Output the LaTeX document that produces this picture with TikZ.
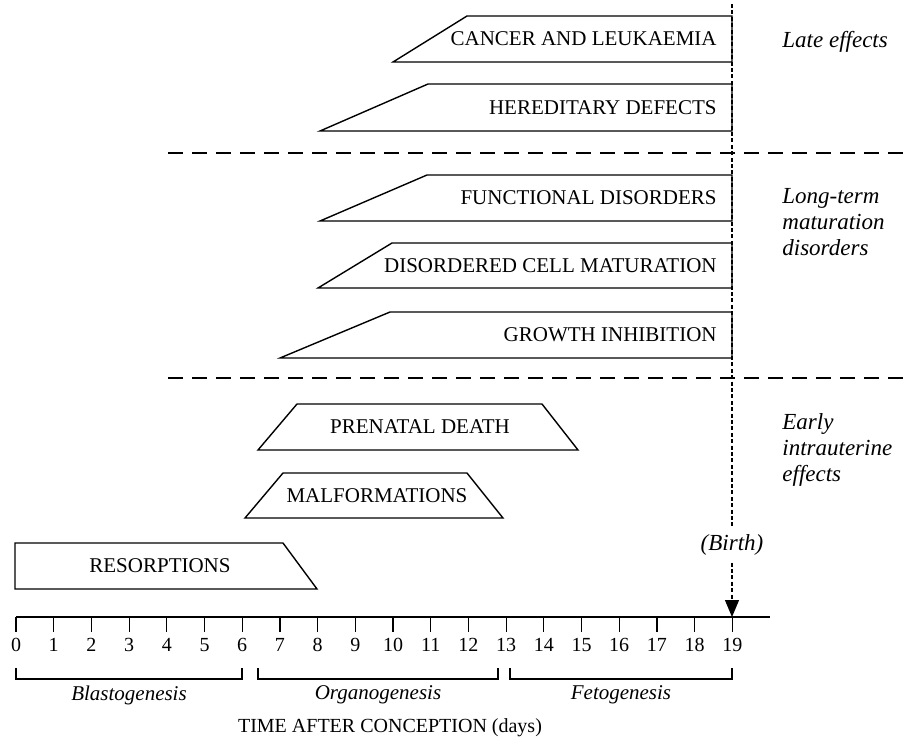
\documentclass[tikz,border=0pt]{standalone}
\usepackage{fontspec}
\setmainfont{Liberation Serif}
\usepackage{tikz}
\usetikzlibrary{arrows.meta, positioning, calc}
\tikzset{effect/.style={draw,line width=0.7pt,fill=white},
         efftext/.style={font=\fontsize{10.5}{12}\selectfont,inner sep=0pt},
         grouplabel/.style={font=\fontsize{11.5}{13}\selectfont\itshape,align=left,anchor=west,inner sep=0pt},
         separator/.style={line width=1pt,dash pattern=on 7.5pt off 4.5pt},
         birthline/.style={line width=0.6pt,dash pattern=on 2pt off 1.2pt},
         timeaxis/.style={line width=1.2pt},
         tick/.style={line width=0.6pt},
         daynum/.style={font=\fontsize{10}{12}\selectfont,below,inner sep=3pt},
         phase/.style={line width=0.6pt},
         phaselabel/.style={font=\fontsize{10.5}{12}\selectfont\itshape,below,inner sep=3pt}}
\begin{document}
\begin{tikzpicture}[x=0.5pt,y=-0.5pt]
    \useasboundingbox (0,0) rectangle (922,751);
    % effects that last until birth
    \foreach \n/\tl/\bl/\yt/\yb/\t in {cancer/467/393/16/62/CANCER AND LEUKAEMIA,
        hered/428/320/84/131/HEREDITARY DEFECTS, funct/427/320/175/221/FUNCTIONAL DISORDERS,
        disord/392/318/243/288/DISORDERED CELL MATURATION, growth/390/280/312/358/GROWTH INHIBITION} {
      \draw[effect] (\tl,\yt) -- (732,\yt) -- (732,\yb) -- (\bl,\yb) -- cycle;
      \node[efftext, anchor=east] (\n) at (717,{(\yt+\yb)/2}) {\t};
    }
    % early intrauterine effects
    \foreach \n/\tl/\tr/\bl/\br/\yt/\yb/\xc/\t in {prenatal/297/542/258/578/404/450/420/PRENATAL DEATH,
        malform/283/467/245/503/473/518/377/MALFORMATIONS, resorp/15/283/15/317/543/589/160/RESORPTIONS} {
      \draw[effect] (\tl,\yt) -- (\tr,\yt) -- (\br,\yb) -- (\bl,\yb) -- cycle;
      \node[efftext] (\n) at (\xc,{(\yt+\yb)/2}) {\t};
    }
    % separators and group labels
    \coordinate (sepA) at (168,153); \coordinate (sepAend) at (912,153);
    \coordinate (sepB) at (168,378); \coordinate (sepBend) at (912,378);
    \draw[separator] (sepA) -- (sepAend);
    \draw[separator] (sepB) -- (sepBend);
    \node[grouplabel] (late) at (782,42) {Late effects};
    \node[grouplabel] (longterm) at (782,222) {Long-term\\maturation\\disorders};
    \node[grouplabel] (early) at (782,450) {Early\\intrauterine\\effects};
    % time axis
    \coordinate (ax0) at (16,617); \coordinate (axend) at (770,617); \coordinate (b19) at (732,617);
    \draw[timeaxis] (ax0) -- (axend);
    \foreach \d in {0,...,19} {\draw[tick] ({16+37.7*\d},617) -- ++(0,15) node[daynum] (d\d) {\d};}
    % birth
    \coordinate (birthtop) at (732,4);
    \node[font=\fontsize{11.5}{13}\selectfont\itshape] (birth) at (732,545) {(Birth)};
    \draw[birthline] (birthtop) -- (birth.north);
    \draw[birthline,-{Triangle[length=8.5pt,width=7pt]}] (birth.south) -- (b19);
    % phases
    \foreach \n/\a/\b/\t in {blasto/16/242/Blastogenesis, organo/258/498/Organogenesis, feto/510/732/Fetogenesis} {
      \draw[phase] (\a,668) -- (\a,679) -- node[phaselabel] (\n) {\t} (\b,679) -- (\b,668);
    }
    \node[font=\fontsize{10}{12}\selectfont] (title) at (390,728) {TIME AFTER CONCEPTION (days)};
  \end{tikzpicture}
\end{document}
